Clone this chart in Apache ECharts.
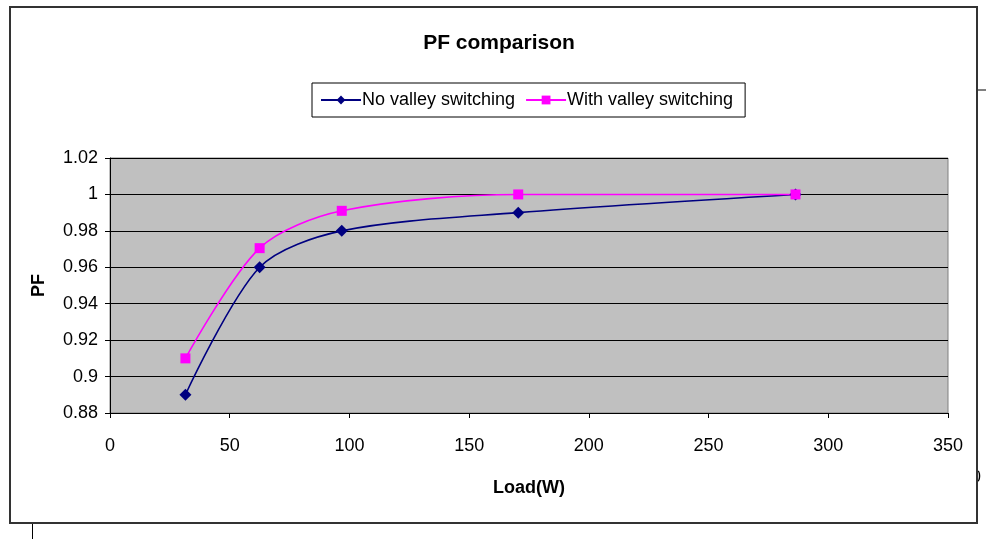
<!DOCTYPE html>
<html>
<head>
<meta charset="utf-8">
<script src="https://cdn.jsdelivr.net/npm/echarts@6/dist/echarts.min.js"></script>
<style>html,body{margin:0;padding:0;background:#fff;}#c{width:986px;height:539px;}</style>
</head>
<body>
<div id="c"></div>
<script>
const loadW = [31.5, 62.5, 96.8, 170.5, 286.3];
const noValley = [0.89, 0.96, 0.98, 0.99, 1.0];
const withValley = [0.91, 0.9705, 0.991, 1.0, 1.0];
const xTicks = {min: 0, max: 350, interval: 50};
const yTicks = {min: 0.88, max: 1.02, interval: 0.02};

const chart = echarts.init(document.getElementById('c'));
const font = 'Liberation Sans, Arial, sans-serif';
chart.setOption({
  animation: false,
  backgroundColor: '#fff',
  title: {
    text: 'PF comparison', left: 494, top: 28, textAlign: 'center',
    textStyle: {fontFamily: font, fontSize: 21, fontWeight: 'bold', color: '#000'}
  },
  legend: {
    left: 312, top: 83, width: 440,
    padding: [8, 12, 8, 8],
    borderColor: '#000', borderWidth: 1,
    itemWidth: 40, itemHeight: 11, itemGap: 10,
    textStyle: {fontFamily: font, fontSize: 18, color: '#000', padding: [0, 0, 0, -4]},
    data: ['No valley switching', 'With valley switching']
  },
  grid: {
    left: 110, right: 38, top: 158, bottom: 126,
    show: true, backgroundColor: '#C0C0C0', borderColor: '#808080', borderWidth: 1
  },
  xAxis: {
    type: 'value', min: xTicks.min, max: xTicks.max, interval: xTicks.interval,
    name: 'Load(W)', nameLocation: 'middle', nameGap: 66,
    nameTextStyle: {fontFamily: font, fontSize: 18, fontWeight: 'bold', color: '#000'},
    axisLine: {lineStyle: {color: '#000', width: 1}},
    axisTick: {show: true, length: 5, lineStyle: {color: '#000'}},
    axisLabel: {fontFamily: font, fontSize: 18, color: '#000', margin: 24},
    splitLine: {show: false}
  },
  yAxis: {
    type: 'value', min: yTicks.min, max: yTicks.max, interval: yTicks.interval,
    name: 'PF', nameLocation: 'middle', nameGap: 62,
    nameTextStyle: {fontFamily: font, fontSize: 18, fontWeight: 'bold', color: '#000'},
    axisLine: {show: true, lineStyle: {color: '#000', width: 1}},
    axisTick: {show: true, length: 5, lineStyle: {color: '#000'}},
    axisLabel: {fontFamily: font, fontSize: 18, color: '#000', margin: 12},
    splitLine: {show: true, lineStyle: {color: '#000', width: 1}}
  },
  series: [
    {
      name: 'No valley switching', type: 'line', smooth: 0.3,
      data: loadW.map((x, i) => [x, noValley[i]]),
      symbol: 'diamond', symbolSize: 12,
      lineStyle: {color: '#000080', width: 1.6},
      itemStyle: {color: '#000080'}
    },
    {
      name: 'With valley switching', type: 'line', smooth: 0.3,
      data: loadW.map((x, i) => [x, withValley[i]]),
      symbol: 'rect', symbolSize: 10,
      lineStyle: {color: '#FF00FF', width: 1.6},
      itemStyle: {color: '#FF00FF'}
    }
  ],
  graphic: [
    {type: 'text', left: 972, top: 470, z: 1,
     style: {text: '0', font: '16px Liberation Sans, Arial', fill: '#000'}},
    {type: 'rect', z: 2, shape: {x: 960, y: 468, width: 17, height: 24}, style: {fill: '#fff'}},
    {type: 'rect', z: 3, shape: {x: 10, y: 7, width: 967, height: 516},
     style: {fill: 'none', stroke: '#333', lineWidth: 2}},
    {type: 'line', z: 3, shape: {x1: 978, y1: 90, x2: 986, y2: 90}, style: {stroke: '#000', lineWidth: 1}},
    {type: 'line', z: 3, shape: {x1: 32.5, y1: 524, x2: 32.5, y2: 539}, style: {stroke: '#000', lineWidth: 1}}
  ]
});
</script>
</body>
</html>
